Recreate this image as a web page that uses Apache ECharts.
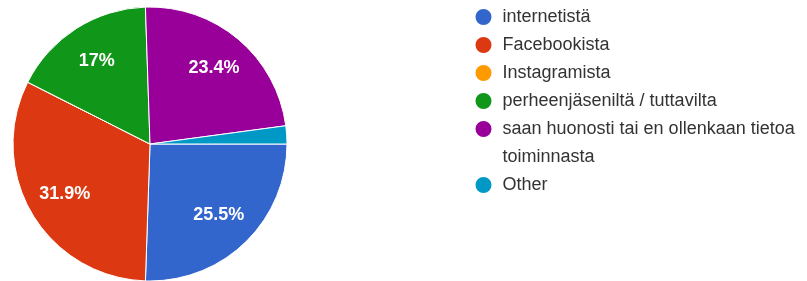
<!DOCTYPE html>
<html>
<head>
<meta charset="utf-8">
<script src="https://cdn.jsdelivr.net/npm/echarts@6/dist/echarts.min.js"></script>
<style>
  html, body { margin: 0; padding: 0; background: #fff; }
  #chart { width: 807px; height: 281px; }
</style>
</head>
<body>
<div id="chart"></div>
<script>
// answers (responses), order as in the legend
var categories = ['internetistä', 'Facebookista', 'Instagramista', 'perheenjäseniltä / tuttavilta', 'saan huonosti tai en ollenkaan tietoa\ntoiminnasta', 'Other']
var counts = [12, 15, 0, 8, 11, 1]
var colors = ['#3366cc', '#dc3912', '#ff9900', '#109618', '#990099', '#0099c6']

var total = counts.reduce(function (a, b) { return a + b }, 0)
var pieData = categories.map(function (name, i) {
  return { name: name, value: counts[i] }
})

var font = 'Liberation Sans, Arial, sans-serif'
var legendBase = {
  orient: 'vertical',
  left: 473.5,
  padding: 0,
  itemGap: 0,
  itemWidth: 18,
  itemHeight: 18,
  icon: 'circle',
  selectedMode: false,
  textStyle: { color: '#333', fontSize: 18, fontFamily: font, lineHeight: 28, padding: [0, 0, 0, 5] }
}

var myChart = echarts.init(document.getElementById('chart'))
var option = {
  color: colors,
  animation: false,
  legend: [
    Object.assign({}, legendBase, { top: 3, data: categories.slice(0, 4) }),
    // the two-line item gets an empty line on top so its circle sits on the first line
    Object.assign({}, legendBase, {
      top: 87,
      data: categories.slice(4),
      formatter: function (name) { return name === categories[4] ? '\n' + name : name }
    })
  ],
  series: [{
    type: 'pie',
    center: [150, 144],
    radius: [0, 137],
    startAngle: 0,
    clockwise: true,
    silent: true,
    itemStyle: { borderColor: '#fff', borderWidth: 1 },
    label: { show: false },
    labelLine: { show: false },
    data: pieData
  }, {
    // same slices, transparent, only to put the percentages at ~0.7 r
    type: 'pie',
    center: [150, 144],
    radius: [55, 137],
    startAngle: 0,
    clockwise: true,
    silent: true,
    itemStyle: { color: 'rgba(0,0,0,0)', borderWidth: 0 },
    label: {
      show: true,
      position: 'inside',
      color: '#fff',
      fontSize: 18,
      fontWeight: 'bold',
      fontFamily: font,
      formatter: function (p) {
        var pct = Math.round(p.value / total * 1000) / 10
        return pct >= 5 ? pct + '%' : ''
      }
    },
    labelLine: { show: false },
    data: pieData
  }]
}
myChart.setOption(option)
window.addEventListener('resize', function () { myChart.resize() })
</script>
</body>
</html>
